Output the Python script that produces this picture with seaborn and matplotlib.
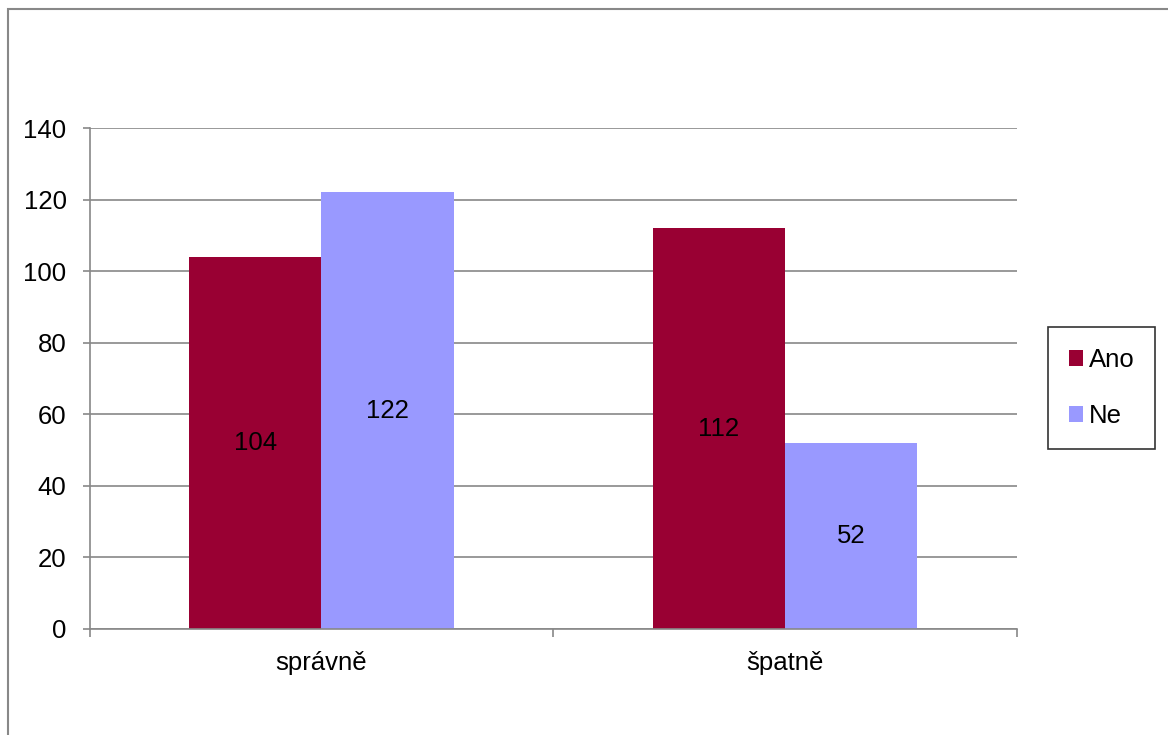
import matplotlib
matplotlib.use("Agg")
import matplotlib.pyplot as plt
from matplotlib.patches import Rectangle
from matplotlib.ticker import FixedLocator
import seaborn as sns
import pandas as pd

# Data
categories = ["správně", "špatně"]
series = ["Ano", "Ne"]
ano_values = [104, 112]
ne_values = [122, 52]
y_ticks = [0, 20, 40, 60, 80, 100, 120, 140]

colors = {"Ano": "#990033", "Ne": "#9999FF"}

df = pd.DataFrame({
    "kategorie": categories * 2,
    "odpověď": ["Ano"] * len(categories) + ["Ne"] * len(categories),
    "počet": ano_values + ne_values,
})

sns.set_theme(style="white")
plt.rcParams["font.family"] = ["Liberation Sans", "DejaVu Sans"]
plt.rcParams["text.color"] = "black"
plt.rcParams["xtick.color"] = "black"
plt.rcParams["ytick.color"] = "black"

FS = 18.5

fig = plt.figure(figsize=(11.68, 7.35), dpi=100)
ax = fig.add_axes([89.5 / 1168, 1 - 629 / 735, (1017 - 89.5) / 1168, (629 - 128) / 735])

sns.barplot(data=df, x="kategorie", y="počet", hue="odpověď", order=categories,
            hue_order=series, palette=colors, width=0.57, gap=0, saturation=1,
            linewidth=0, ax=ax)

for cont in ax.containers:
    ax.bar_label(cont, label_type="center", fontsize=FS, color="black")

ax.set_xlim(-0.5, 1.5)
ax.set_ylim(0, 140)
ax.set_yticks(y_ticks)
ax.set_yticklabels([str(v) for v in y_ticks])
ax.yaxis.grid(True, color="#888888", linewidth=1.2)
ax.set_axisbelow(True)

# Category boundary ticks on the x axis, labels centered below each group
ax.xaxis.set_major_locator(FixedLocator([-0.5, 0.5, 1.5]))
ax.set_xticklabels(["", "", ""])
ax.xaxis.set_minor_locator(FixedLocator([0, 1]))
ax.set_xticks([0, 1], categories, minor=True)
ax.tick_params(axis="x", which="major", direction="out", length=5.5, width=1.2,
               color="#888888", bottom=True)
ax.tick_params(axis="x", which="minor", length=0, labelsize=FS, pad=16,
               labelcolor="black")
ax.tick_params(axis="y", direction="out", length=5, width=1.2, color="#888888",
               left=True, labelsize=FS, pad=11.5, labelcolor="black")

for side in ["top", "right"]:
    ax.spines[side].set_visible(False)
for side in ["left", "bottom"]:
    ax.spines[side].set_color("#888888")
    ax.spines[side].set_linewidth(1.2)

ax.set_xlabel("")
ax.set_ylabel("")

leg = ax.legend(loc="center left", bbox_to_anchor=((1048 - 89.5) / 927.5, (629 - 388) / 501),
                frameon=True, fontsize=FS, handlelength=0.55, handleheight=0.55,
                handletextpad=0.25, labelspacing=1.25, borderpad=0.8,
                borderaxespad=0, fancybox=False)
leg.get_frame().set_edgecolor("black")
leg.get_frame().set_linewidth(1.2)
for t in leg.get_texts():
    t.set_color("black")

# Outer chart frame
fig.add_artist(Rectangle((8 / 1168, -0.05), 1.2, 1 - 9 / 735 + 0.05,
                         transform=fig.transFigure, fill=False,
                         edgecolor="#888888", linewidth=1.5))

fig.savefig("out.png", dpi=100)
